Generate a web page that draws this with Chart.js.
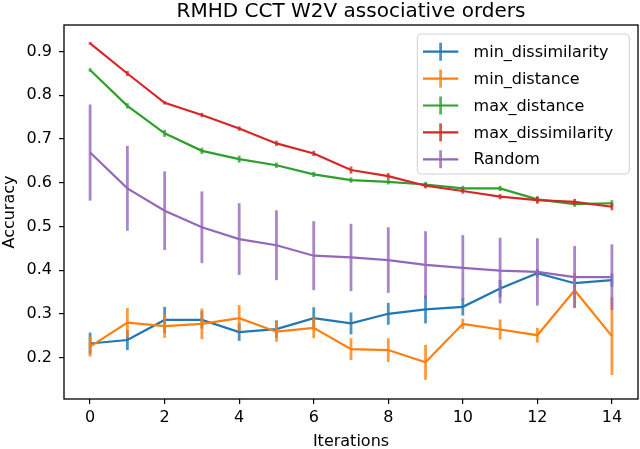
<!DOCTYPE html>
<html>
<head>
<meta charset="utf-8">
<script src="https://cdn.jsdelivr.net/npm/chart.js@4.4.1/dist/chart.umd.min.js"></script>
<style>
  html, body { margin: 0; padding: 0; background: #fff; }
  #wrap { width: 640px; height: 449px; position: relative; }
</style>
</head>
<body>
<div id="wrap"><canvas id="accChart"></canvas></div>
<script>
// Données
const iterations = [0, 1, 2, 3, 4, 5, 6, 7, 8, 9, 10, 11, 12, 13, 14];
const xTicks = [0, 2, 4, 6, 8, 10, 12, 14];
const yTicks = [0.2, 0.3, 0.4, 0.5, 0.6, 0.7, 0.8, 0.9];

const seriesNames = ['min_dissimilarity', 'min_distance', 'max_distance', 'max_dissimilarity', 'Random'];
const seriesColors = ['#1f77b4', '#ff7f0e', '#2ca02c', '#d62728', '#9467bd'];

const minDissimilarity = [0.232, 0.240, 0.286, 0.286, 0.258, 0.265, 0.290, 0.278, 0.300, 0.310, 0.316, 0.358, 0.393, 0.370, 0.377];
const minDissimilarityErr = [0.025, 0.023, 0.030, 0.020, 0.020, 0.020, 0.025, 0.025, 0.025, 0.032, 0.020, 0.020, 0.010, 0.010, 0.015];

const minDistance = [0.225, 0.280, 0.272, 0.277, 0.290, 0.259, 0.268, 0.219, 0.217, 0.189, 0.277, 0.264, 0.251, 0.354, 0.249];
const minDistanceErr = [0.023, 0.033, 0.027, 0.035, 0.030, 0.023, 0.024, 0.025, 0.027, 0.040, 0.012, 0.023, 0.017, 0.040, 0.089];

const maxDistance = [0.858, 0.776, 0.713, 0.673, 0.654, 0.640, 0.619, 0.606, 0.602, 0.596, 0.587, 0.587, 0.562, 0.551, 0.553];
const maxDistanceErr = [0.004, 0.006, 0.008, 0.007, 0.008, 0.006, 0.006, 0.006, 0.006, 0.006, 0.006, 0.006, 0.007, 0.006, 0.007];

const maxDissimilarity = [0.919, 0.850, 0.783, 0.755, 0.724, 0.690, 0.667, 0.629, 0.615, 0.593, 0.581, 0.568, 0.560, 0.556, 0.545];
const maxDissimilarityErr = [0.003, 0.006, 0.004, 0.005, 0.005, 0.006, 0.006, 0.008, 0.007, 0.006, 0.006, 0.006, 0.008, 0.007, 0.008];

const randomAcc = [0.669, 0.587, 0.536, 0.498, 0.471, 0.457, 0.433, 0.429, 0.423, 0.412, 0.405, 0.399, 0.396, 0.384, 0.384];
const randomErr = [0.110, 0.097, 0.090, 0.082, 0.082, 0.080, 0.079, 0.077, 0.075, 0.077, 0.075, 0.075, 0.077, 0.071, 0.075];

const allValues = [minDissimilarity, minDistance, maxDistance, maxDissimilarity, randomAcc];
const allErrors = [minDissimilarityErr, minDistanceErr, maxDistanceErr, maxDissimilarityErr, randomErr];

const FONT = "'DejaVu Sans', sans-serif";
Chart.defaults.font.family = FONT;
Chart.defaults.color = '#000';

// Barres d'erreur dessinées juste après chaque série (ordre matplotlib)
const errorBars = {
    id: 'errorBars',
    afterDatasetDraw(chart, args) {
        const ds = chart.data.datasets[args.index];
        if (!ds.errors) return;
        const ctx = chart.ctx;
        const x = chart.scales.x, y = chart.scales.y;
        const area = chart.chartArea;
        ctx.save();
        ctx.beginPath();
        ctx.rect(area.left, area.top, area.right - area.left, area.bottom - area.top);
        ctx.clip();
        ctx.strokeStyle = ds.borderColor;
        ctx.globalAlpha = 0.8;
        ctx.lineWidth = 2.8;
        ds.data.forEach((p, i) => {
            const px = x.getPixelForValue(p.x);
            ctx.beginPath();
            ctx.moveTo(px, y.getPixelForValue(p.y - ds.errors[i]));
            ctx.lineTo(px, y.getPixelForValue(p.y + ds.errors[i]));
            ctx.stroke();
        });
        ctx.restore();
    }
};

// Cadre complet + légende dans le graphique
const frameAndLegend = {
    id: 'frameAndLegend',
    afterDraw(chart) {
        const ctx = chart.ctx;
        const a = chart.chartArea;
        ctx.save();
        ctx.strokeStyle = '#000';
        ctx.lineWidth = 1.3;
        ctx.strokeRect(a.left, a.top, a.right - a.left, a.bottom - a.top);

        const w = 212, h = 140;
        const bx = a.right - 8.7 - w, by = a.top + 9;
        ctx.beginPath();
        ctx.roundRect(bx, by, w, h, 4);
        ctx.fillStyle = 'rgba(255,255,255,0.8)';
        ctx.fill();
        ctx.strokeStyle = '#d0d0d0';
        ctx.lineWidth = 1;
        ctx.stroke();

        ctx.font = '16px ' + FONT;
        ctx.textBaseline = 'middle';
        ctx.textAlign = 'left';
        chart.data.datasets.forEach((ds, i) => {
            const ly = by + 17.7 + i * 26.9;
            ctx.strokeStyle = ds.borderColor;
            ctx.lineWidth = 2.2;
            ctx.beginPath();
            ctx.moveTo(bx + 5.7, ly);
            ctx.lineTo(bx + 41, ly);
            ctx.stroke();
            ctx.lineWidth = 2.8;
            ctx.globalAlpha = 0.8;
            ctx.beginPath();
            ctx.moveTo(bx + 23.3, ly - 9);
            ctx.lineTo(bx + 23.3, ly + 9);
            ctx.stroke();
            ctx.globalAlpha = 1;
            ctx.fillStyle = '#000';
            ctx.fillText(ds.label, bx + 56.3, ly + 1);
        });
        ctx.restore();
    }
};

const datasets = seriesNames.map((name, i) => ({
    label: name,
    data: iterations.map((it, j) => ({ x: it, y: allValues[i][j] })),
    errors: allErrors[i],
    borderColor: seriesColors[i],
    backgroundColor: seriesColors[i],
    borderWidth: 2.2,
    pointRadius: 0,
    tension: 0,
    fill: false,
    order: seriesNames.length - i
}));

const ctx = document.getElementById('accChart').getContext('2d');
const accChart = new Chart(ctx, {
    type: 'line',
    data: { datasets: datasets },
    options: {
        responsive: true,
        maintainAspectRatio: false,
        animation: false,
        layout: { padding: { top: 0, right: 2, left: 0, bottom: 0 } },
        plugins: {
            legend: { display: false },
            tooltip: { enabled: false },
            title: {
                display: true,
                text: 'RMHD CCT W2V associative orders',
                fullSize: false,
                font: { size: 20, weight: 'normal', lineHeight: 1.2 },
                padding: { top: 0, bottom: 1 }
            }
        },
        scales: {
            x: {
                type: 'linear',
                min: -0.7,
                max: 14.7,
                afterBuildTicks: (scale) => { scale.ticks = xTicks.map(v => ({ value: v })); },
                afterFit: (scale) => { scale.height = 50; },
                grid: { display: true, drawOnChartArea: false, tickLength: 5, color: '#000', lineWidth: 1.2 },
                border: { display: false },
                ticks: { font: { size: 16 }, padding: 4, maxRotation: 0 },
                title: { display: true, text: 'Iterations', font: { size: 16 }, padding: { top: 0, bottom: -2 } }
            },
            y: {
                min: 0.105,
                max: 0.961,
                afterBuildTicks: (scale) => { scale.ticks = yTicks.map(v => ({ value: v })); },
                afterFit: (scale) => { scale.width = 64; },
                grid: { display: true, drawOnChartArea: false, tickLength: 5, color: '#000', lineWidth: 1.2 },
                border: { display: false },
                ticks: { font: { size: 16 }, padding: 7, callback: (v) => v.toFixed(1) },
                title: { display: true, text: 'Accuracy', font: { size: 16 }, padding: { top: 0, bottom: 0 } }
            }
        }
    },
    plugins: [errorBars, frameAndLegend]
});
</script>
</body>
</html>
